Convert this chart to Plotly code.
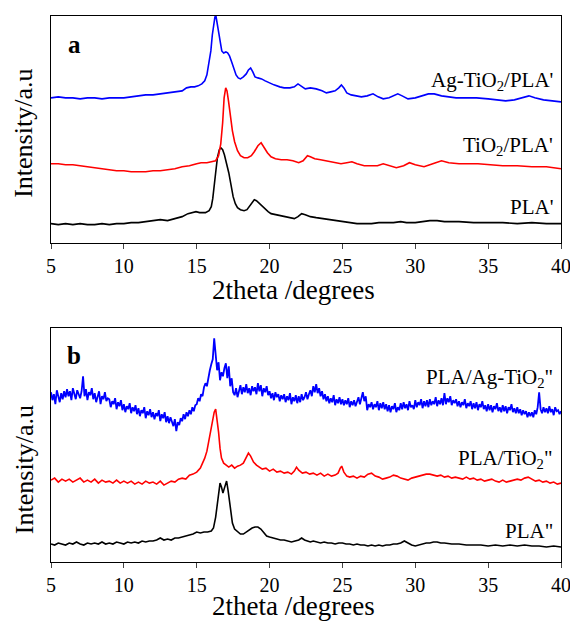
import numpy as np
import plotly.graph_objects as go

# ---- panel a : (2theta, intensity) ----
pla_a = [(5.0,19),(5.5,18),(6.0,19),(6.5,18),(7.0,19),(7.5,18),(8.0,18),(8.5,19),(9.0,18),(9.5,19),
         (10.0,19),(10.5,20),(11.0,20),(11.5,21),(12.0,22),(12.5,23),(13.0,22),(13.5,24),(14.0,26),(14.4,29),
         (14.7,30),(14.95,31),(15.2,30),(15.6,30),(15.85,32),(16.0,36),(16.1,44),(16.2,55),(16.3,70),(16.42,85),
         (16.55,93),(16.65,95),(16.78,93),(16.9,88),(17.05,80),(17.2,70),(17.35,58),(17.5,46),(17.65,39),(17.8,35),
         (18.0,33),(18.25,32),(18.45,33),(18.65,37),(18.85,42),(18.95,43),(19.1,42),(19.3,39),(19.5,36),(19.7,33),
         (19.9,31),(20.1,29),(20.4,28),(20.7,27),(21.0,26),(21.4,25),(21.7,24),(21.95,26),(22.2,29),(22.45,28),
         (22.8,26),(23.2,25),(23.7,24),(24.1,23),(24.6,22),(25.0,21),(25.5,20),(26.0,19),(26.6,19),(27.0,19),
         (27.5,20),(28.0,20),(28.5,20),(29.0,21),(29.4,20),(30.0,20),(30.5,21),(31.0,22),(31.5,22),(32.0,21),
         (32.5,21),(33.0,21),(34.0,20),(35.0,20),(36.0,20),(37.0,19),(38.0,20),(39.0,19),(40.0,19)]

tio2_pla_a = [(5.0,79),(5.5,79),(6.0,78),(6.5,78),(7.0,77),(7.5,76),(8.0,75),(8.5,74),(9.0,73),(9.5,72),
              (10.0,72),(10.5,71),(11.0,71),(11.5,71),(12.0,72),(12.5,72),(13.0,73),(13.5,74),(14.0,76),(14.5,77),
              (15.0,79),(15.3,80),(15.7,80),(16.0,81),(16.3,82),(16.5,87),(16.65,99),(16.78,120),(16.88,145),(16.99,155),
              (17.08,152),(17.18,142),(17.3,128),(17.45,112),(17.6,101),(17.8,92),(18.0,87),(18.25,85),(18.5,85),(18.75,87),
              (18.95,91),(19.2,97),(19.42,100),(19.6,96),(19.85,90),(20.1,86),(20.4,84),(20.8,83),(21.2,83),(21.6,82),
              (22.0,80),(22.3,82),(22.6,87),(22.8,86),(23.1,84),(23.5,83),(23.9,82),(24.4,80),(24.9,79),(25.3,80),
              (25.65,81),(26.0,79),(26.5,77),(27.0,77),(27.4,77),(27.8,79),(28.2,77),(28.7,75),(29.2,77),(29.6,80),
              (30.0,78),(30.6,76),(31.2,79),(31.8,82),(32.3,80),(33.0,79),(34.3,79),(35.0,78),(36.0,77),(37.0,77),
              (38.0,76),(39.0,76),(40.0,74)]

agtio2_pla_a = [(5.0,145),(5.5,146),(6.0,145),(6.5,145),(7.0,144),(7.5,145),(8.0,145),(8.5,144),(9.0,145),(9.5,145),
                (10.0,145),(10.5,146),(11.0,147),(11.5,148),(12.0,148),(12.5,149),(13.0,150),(13.5,151),(14.0,152),(14.3,155),
                (14.6,156),(14.85,156),(15.1,157),(15.35,159),(15.55,162),(15.7,168),(15.85,180),(15.97,192),(16.07,208),(16.15,219),
                (16.25,226),(16.32,227),(16.4,220),(16.5,208),(16.6,198),(16.72,192),(16.85,190),(17.0,191),(17.12,190),(17.25,187),
                (17.4,181),(17.55,174),(17.7,168),(17.85,165),(18.0,164),(18.2,166),(18.4,169),(18.55,173),(18.7,175),(18.85,171),
                (19.0,166),(19.2,165),(19.45,164),(19.7,162),(19.95,160),(20.3,158),(20.7,156),(21.0,155),(21.4,155),(21.7,156),
                (21.95,159),(22.15,157),(22.45,154),(22.8,155),(23.2,154),(23.6,152),(23.9,150),(24.2,151),(24.5,152),(24.75,155),
                (24.93,158),(25.1,155),(25.3,150),(25.6,148),(25.9,147),(26.3,146),(26.7,147),(27.1,149),(27.45,146),(27.8,144),
                (28.2,145),(28.5,147),(28.8,149),(29.1,147),(29.5,144),(30.0,145),(30.5,147),(30.9,149),(31.3,149),(31.8,147),
                (32.3,146),(32.8,145),(33.5,145),(34.2,145),(35.0,144),(35.6,143),(36.2,142),(36.8,143),(37.4,145),(37.8,147),
                (38.2,145),(38.8,143),(39.4,142),(40.0,141)]

# ---- panel b ----
pla_b = [(5.0,18),(5.25,17),(5.5,19),(5.75,18),(6.0,17),(6.25,19),(6.5,18),(6.75,20),(7.0,18),(7.25,17),
         (7.5,19),(7.75,18),(8.0,19),(8.25,18),(8.5,20),(8.75,18),(9.0,19),(9.25,18),(9.5,20),(9.75,19),
         (10.0,18),(10.25,20),(10.5,19),(10.75,20),(11.0,19),(11.25,21),(11.5,20),(11.75,21),(12.0,21),(12.25,22),
         (12.5,24),(12.75,22),(13.0,23),(13.25,22),(13.5,24),(13.75,24),(14.0,25),(14.25,26),(14.5,27),(14.75,28),
         (15.0,30),(15.25,29),(15.5,30),(15.75,30),(16.0,31),(16.15,34),(16.3,45),(16.45,64),(16.6,79),(16.7,75),
         (16.8,69),(16.9,74),(17.05,81),(17.15,72),(17.3,55),(17.45,39),(17.6,33),(17.8,30),(18.0,28),(18.2,28),
         (18.4,30),(18.6,32),(18.8,34),(19.0,35),(19.2,35),(19.4,33),(19.6,30),(19.8,26),(20.0,25),(20.25,24),
         (20.5,23),(20.75,22),(21.0,22),(21.25,21),(21.5,20),(21.75,21),(22.0,22),(22.2,24),(22.4,22),(22.6,21),
         (22.8,20),(23.0,21),(23.25,20),(23.5,19),(23.75,20),(24.0,19),(24.25,19),(24.5,18),(24.75,19),(25.0,19),
         (25.25,18),(25.5,18),(25.75,17),(26.0,18),(26.25,17),(26.5,17),(26.75,16),(27.0,17),(27.25,16),(27.5,17),
         (27.75,16),(28.0,17),(28.25,17),(28.5,18),(28.75,18),(29.0,19),(29.25,21),(29.5,19),(29.75,17),(30.0,16),
         (30.25,17),(30.5,18),(30.75,19),(31.0,19),(31.25,20),(31.5,20),(31.75,19),(32.0,19),(32.5,18),(33.0,18),
         (33.5,17),(34.0,17),(34.5,17),(35.0,16),(35.5,17),(36.0,16),(36.5,17),(37.0,16),(37.5,17),(38.0,16),
         (38.5,16),(39.0,15),(39.5,16),(40.0,15)]

pla_tio2_b = [(5.0,82),(5.25,84),(5.5,80),(5.75,83),(6.0,81),(6.25,83),(6.5,80),(6.75,82),(7.0,84),(7.25,80),
              (7.5,82),(7.75,80),(8.0,83),(8.25,79),(8.5,82),(8.75,80),(9.0,81),(9.25,79),(9.5,82),(9.75,79),
              (10.0,81),(10.25,79),(10.5,81),(10.75,78),(11.0,80),(11.25,78),(11.5,81),(11.75,79),(12.0,80),(12.25,78),
              (12.5,81),(12.75,77),(13.0,79),(13.25,81),(13.5,80),(13.75,83),(14.0,84),(14.25,83),(14.5,87),(14.75,88),
              (15.0,90),(15.25,94),(15.4,99),(15.55,104),(15.7,111),(15.85,122),(16.0,135),(16.1,144),(16.2,150),(16.3,153),
              (16.4,142),(16.5,130),(16.6,114),(16.7,104),(16.85,99),(17.0,97),(17.2,95),(17.4,97),(17.6,94),(17.8,96),
              (18.0,97),(18.2,99),(18.4,104),(18.55,109),(18.7,106),(18.9,100),(19.1,97),(19.3,95),(19.5,93),(19.75,94),
              (20.0,91),(20.25,93),(20.5,90),(20.75,91),(21.0,89),(21.25,90),(21.5,88),(21.7,91),(21.85,95),(22.0,92),
              (22.25,89),(22.5,90),(22.75,88),(23.0,89),(23.25,87),(23.5,89),(23.75,86),(24.0,88),(24.25,86),(24.5,87),
              (24.7,89),(24.85,94),(24.95,96),(25.1,90),(25.3,86),(25.5,85),(25.75,86),(26.0,84),(26.25,86),(26.5,85),
              (26.75,88),(27.0,89),(27.25,86),(27.5,85),(27.75,83),(28.0,84),(28.25,85),(28.5,87),(28.75,86),(29.0,84),
              (29.25,83),(29.5,82),(29.75,84),(30.0,85),(30.25,86),(30.5,87),(30.75,88),(31.0,88),(31.25,87),(31.5,86),
              (31.75,87),(32.0,85),(32.25,86),(32.5,84),(32.75,85),(33.0,84),(33.25,83),(33.5,85),(33.75,83),(34.0,84),
              (34.25,82),(34.5,83),(34.75,81),(35.0,82),(35.25,83),(35.5,81),(35.75,80),(36.0,82),(36.25,80),(36.5,81),
              (36.75,82),(37.0,83),(37.25,82),(37.5,84),(37.75,85),(38.0,83),(38.25,81),(38.5,82),(38.75,80),(39.0,81),
              (39.25,79),(39.5,80),(39.75,78),(40.0,79)]

# noisy pattern, one reading every 0.1 degree from 5.0 to 40.0
tt_fine = np.round(np.arange(5.0, 40.05, 0.1), 1)
pla_agtio2_b = [
    170,162,168,158,172,164,160,169,163,171,   # 5.x
    165,173,166,171,162,174,167,163,172,168,   # 6.x
    164,171,186,166,173,162,170,167,174,163,   # 7.x
    169,160,167,171,158,166,163,170,161,164,   # 8.x
    163,155,161,158,164,153,160,156,162,152,   # 9.x
    158,150,156,153,159,149,155,151,157,148,   # 10.x
    154,146,152,149,155,144,151,147,153,145,   # 11.x
    150,143,149,146,152,141,148,144,150,140,   # 12.x
    146,139,145,141,136,143,131,140,137,144,   # 13.x
    141,148,143,150,146,152,148,155,151,157,   # 14.x
    158,164,161,168,166,175,179,176,186,192,   # 15.x
    198,203,224,206,192,200,182,190,186,194,   # 16.x
    199,184,196,176,184,170,167,174,165,171,   # 17.x
    177,168,175,170,178,169,174,167,176,171,   # 18.x
    175,168,179,171,177,166,174,170,176,167,   # 19.x
    171,164,169,162,170,165,168,161,167,163,   # 20.x
    168,160,166,162,169,158,165,161,167,159,   # 21.x
    166,160,168,162,165,170,163,168,172,166,   # 22.x
    176,170,178,169,174,166,171,163,168,161,   # 23.x
    166,159,164,160,167,157,163,159,165,158,   # 24.x
    163,157,162,158,164,155,161,157,162,156,   # 25.x
    160,165,158,163,170,161,166,152,158,155,   # 26.x
    160,153,158,155,161,152,159,154,160,153,   # 27.x
    158,151,157,150,156,153,159,150,155,152,   # 28.x
    159,153,160,154,158,152,161,155,157,153,   # 29.x
    162,155,160,157,163,154,161,156,162,155,   # 30.x
    163,157,161,158,165,156,162,158,164,157,   # 31.x
    169,158,164,160,166,157,162,159,163,156,   # 32.x
    161,155,160,157,163,154,159,156,161,153,   # 33.x
    159,154,160,152,158,155,161,153,157,151,   # 34.x
    158,152,157,150,156,153,159,151,155,150,   # 35.x
    157,151,156,149,155,152,158,150,154,149,   # 36.x
    155,149,153,147,152,148,151,145,150,146,   # 37.x
    150,145,152,148,155,170,153,149,155,150,   # 38.x
    154,149,156,150,153,147,155,151,152,148,   # 39.x
    151]                                       # 40.0

tick_vals = [5, 10, 15, 20, 25, 30, 35, 40]
serif = "Liberation Serif"

fig = go.Figure()

def add(pairs, color, xa, ya, w=1.6):
    xs, ys = zip(*pairs)
    fig.add_trace(go.Scatter(x=xs, y=ys, mode="lines", line=dict(color=color, width=w),
                             xaxis=xa, yaxis=ya, showlegend=False))

add(pla_a, "black", "x", "y")
add(tio2_pla_a, "#ff0000", "x", "y")
add(agtio2_pla_a, "#0000ff", "x", "y")
add(pla_b, "black", "x2", "y2")
add(pla_tio2_b, "#ff0000", "x2", "y2")
fig.add_trace(go.Scatter(x=tt_fine, y=pla_agtio2_b, mode="lines", line=dict(color="#0000ff", width=1.8),
                         xaxis="x2", yaxis="y2", showlegend=False))

xax = dict(range=[5, 40], tickvals=tick_vals, ticks="outside", ticklen=5, tickwidth=1.3,
           showline=True, linecolor="black", linewidth=1.3, mirror=True, showgrid=False, zeroline=False,
           tickfont=dict(family=serif, size=20, color="black"))
yax = dict(showticklabels=False, ticks="", showline=True, linecolor="black", linewidth=1.3,
           mirror=True, showgrid=False, zeroline=False)

# the page body keeps its 8px margin, so the figure is 8px smaller than the window
fig.update_layout(
    width=570, height=613,
    margin=dict(l=43, r=11, t=7, b=59),
    paper_bgcolor="white", plot_bgcolor="white",
    font=dict(family=serif, color="black"),
    xaxis=dict(xax, domain=[0, 1], anchor="y"),
    yaxis=dict(yax, domain=[0.585, 1.0], range=[0, 227], anchor="x"),
    xaxis2=dict(xax, domain=[0, 1], anchor="y2"),
    yaxis2=dict(yax, domain=[0, 0.428], range=[0, 234], anchor="x2"),
)

lab = dict(family=serif, size=21, color="black")
notes = [
    ("x", "y", 39.6, 162, "Ag-TiO<sub>2</sub>/PLA'"),
    ("x", "y", 39.6, 97, "TiO<sub>2</sub>/PLA'"),
    ("x", "y", 39.6, 36, "PLA'"),
    ("x2", "y2", 39.6, 184, 'PLA/Ag-TiO<sub>2</sub>"'),
    ("x2", "y2", 39.6, 103, 'PLA/TiO<sub>2</sub>"'),
    ("x2", "y2", 39.6, 31, 'PLA"'),
]
for xr, yr, x, y, t in notes:
    fig.add_annotation(xref=xr, yref=yr, x=x, y=y, text=t, showarrow=False,
                       xanchor="right", yanchor="middle", font=lab)

fig.add_annotation(xref="x", yref="y", x=6.6, y=198, text="<b>a</b>", showarrow=False,
                   xanchor="center", yanchor="middle", font=dict(family=serif, size=25, color="black"))
fig.add_annotation(xref="x2", yref="y2", x=6.6, y=207, text="<b>b</b>", showarrow=False,
                   xanchor="center", yanchor="middle", font=dict(family=serif, size=25, color="black"))

title_font = dict(family=serif, size=27, color="black")
for yy in [0.499, -0.080]:
    fig.add_annotation(xref="paper", yref="paper", x=0.475, y=yy, text="2theta /degrees",
                       showarrow=False, xanchor="center", yanchor="middle", font=title_font)
for yy in [0.786, 0.170]:
    fig.add_annotation(xref="paper", yref="paper", x=-0.053, y=yy, text="Intensity/a.u",
                       showarrow=False, textangle=-90, xanchor="center", yanchor="middle",
                       font=dict(family=serif, size=26, color="black"))

fig.write_html("out.html")
